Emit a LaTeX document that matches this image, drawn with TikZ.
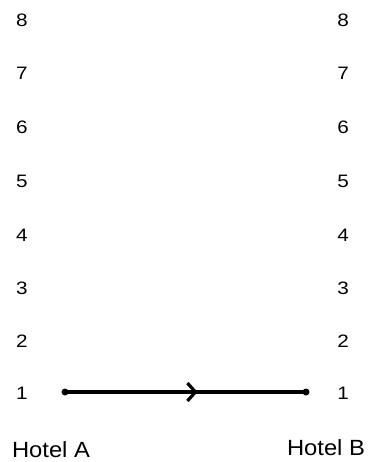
\documentclass[tikz,border=0pt]{standalone}
\usepackage{fontspec}
\setmainfont{Liberation Sans}
\usetikzlibrary{arrows.meta,decorations.markings}
\begin{document}
\begin{tikzpicture}[x=1pt,y=-1pt,
  num/.style={inner sep=0pt, font=\fontsize{18}{20}\selectfont, xscale=1.15},
  hotel/.style={inner sep=0pt, font=\fontsize{22}{24}\selectfont, xscale=1.08},
  endpt/.style={circle, fill=black, inner sep=0pt, minimum size=7pt},
  route/.style={line width=3.2pt, postaction={decorate},
    decoration={markings, mark=at position 0.55 with {\arrow{Straight Barb[length=8pt,width=18pt,line width=3.2pt]}}}}]
\useasboundingbox (0,0) rectangle (370,462);
\foreach \n/\y in {8/20,7/73,6/127,5/181,4/235,3/288,2/341,1/393}{
  \node[num] (l\n) at (22,\y) {\n};
  \node[num] (r\n) at (343,\y) {\n};
}
\node[endpt] (A) at (65,392) {};
\node[endpt] (B) at (306,392) {};
\draw[route] (A.center) -- (B.center);
\node[hotel] (ha) at (51,450) {Hotel A};
\node[hotel] (hb) at (326,448) {Hotel B};
\end{tikzpicture}
\end{document}
